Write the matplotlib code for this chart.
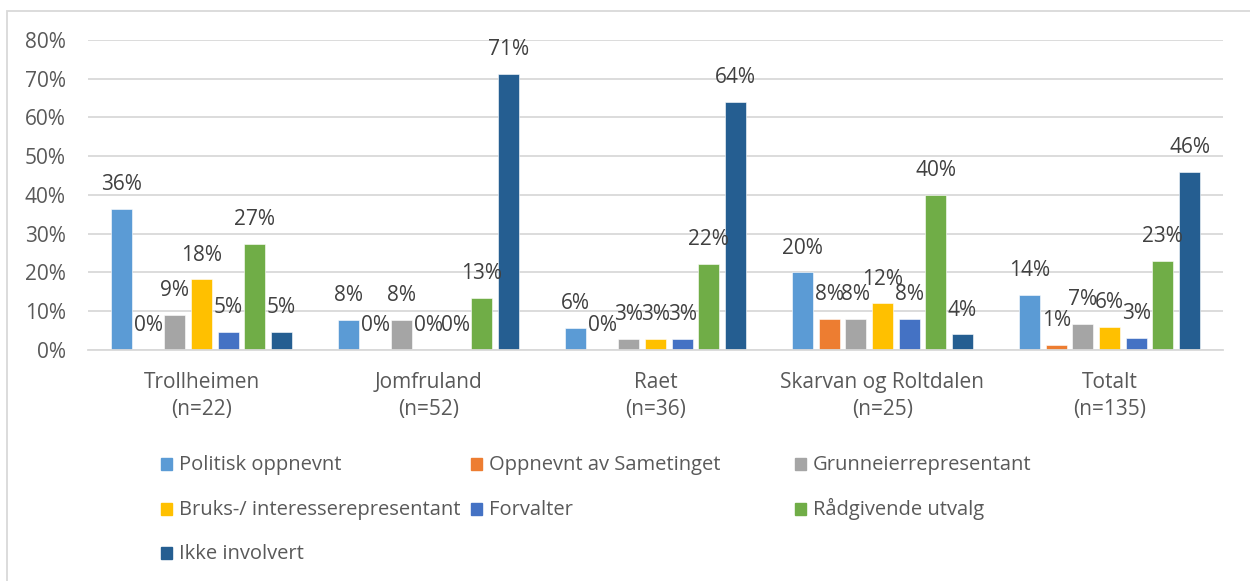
import matplotlib.pyplot as plt
import numpy as np
from matplotlib.patches import Rectangle

plt.rcParams['font.family'] = ['Open Sans', 'DejaVu Sans']

groups = ['Trollheimen\n(n=22)', 'Jomfruland\n(n=52)', 'Raet\n(n=36)',
          'Skarvan og Roltdalen\n(n=25)', 'Totalt\n(n=135)']
series = ['Politisk oppnevnt', 'Oppnevnt av Sametinget', 'Grunneierrepresentant',
          'Bruks-/ interesserepresentant', 'Forvalter', 'Rådgivende utvalg',
          'Ikke involvert']
colors = ['#5B9BD5', '#ED7D31', '#A5A5A5', '#FFC000', '#4472C4', '#70AD47', '#255E91']

# percent per group, one list per series
politisk = [36.4, 7.7, 5.6, 20.0, 14.1]
sameting = [0.0, 0.0, 0.0, 8.0, 1.4]
grunneier = [9.1, 7.7, 2.8, 8.0, 6.7]
bruks = [18.2, 0.0, 2.8, 12.0, 5.9]
forvalter = [4.6, 0.0, 2.8, 8.0, 3.0]
radgivende = [27.3, 13.4, 22.2, 40.0, 23.0]
ikke = [4.6, 71.2, 63.9, 4.0, 45.9]
values = [politisk, sameting, grunneier, bruks, forvalter, radgivende, ikke]

W, H = 1250, 581
fig = plt.figure(figsize=(W / 100, H / 100), dpi=100)
ax = fig.add_axes([0.0704, 0.3976, 0.9080, 0.5336])

x = np.arange(len(groups))
step = 0.1175
width = 0.093
for i, (name, vals, c) in enumerate(zip(series, values, colors)):
    pos = x + (i - 3) * step
    ax.bar(pos, vals, width, color=c, label=name, edgecolor='white', linewidth=0.4)
    for p, v in zip(pos, vals):
        ax.annotate('%.0f%%' % v, (p, v), xytext=(0, 10), textcoords='offset points',
                    ha='center', va='bottom', fontsize=15, color='#404040')

ax.set_ylim(0, 80)
ax.set_xlim(-0.5, 4.5)
ax.set_yticks(range(0, 81, 10))
ax.set_yticklabels(['%d%%' % t for t in range(0, 81, 10)])
ax.set_xticks(x)
ax.set_xticklabels(groups, linespacing=1.35)
ax.tick_params(length=0, labelsize=15, labelcolor='#595959')
ax.tick_params(axis='x', pad=16)
ax.tick_params(axis='y', pad=16)
ax.grid(axis='y', color='#D9D9D9', linewidth=1.3)
ax.set_axisbelow(True)
for s in ['top', 'right', 'left']:
    ax.spines[s].set_visible(False)
ax.spines['bottom'].set_color('#D9D9D9')
ax.spines['bottom'].set_linewidth(1.3)

# legend below the plot, three columns filled row by row
col_x = [161, 471, 795]
row_y = [464, 509, 553]
for i, (name, c) in enumerate(zip(series, colors)):
    lx = col_x[i % 3]
    ly = row_y[i // 3]
    fig.patches.append(Rectangle((lx / W, 1 - (ly + 6) / H), 11 / W, 12 / H,
                                 transform=fig.transFigure, color=c))
    fig.text((lx + 18) / W, 1 - (ly + 6) / H, name, fontsize=14.5,
             color='#595959', ha='left', va='baseline')

fig.patches.append(Rectangle((7 / W, -0.1), 1.2, 1 - 11 / H + 0.1,
                             transform=fig.transFigure, fill=False,
                             edgecolor='#D9D9D9', linewidth=1.3))

fig.savefig('out.png', dpi=100)
